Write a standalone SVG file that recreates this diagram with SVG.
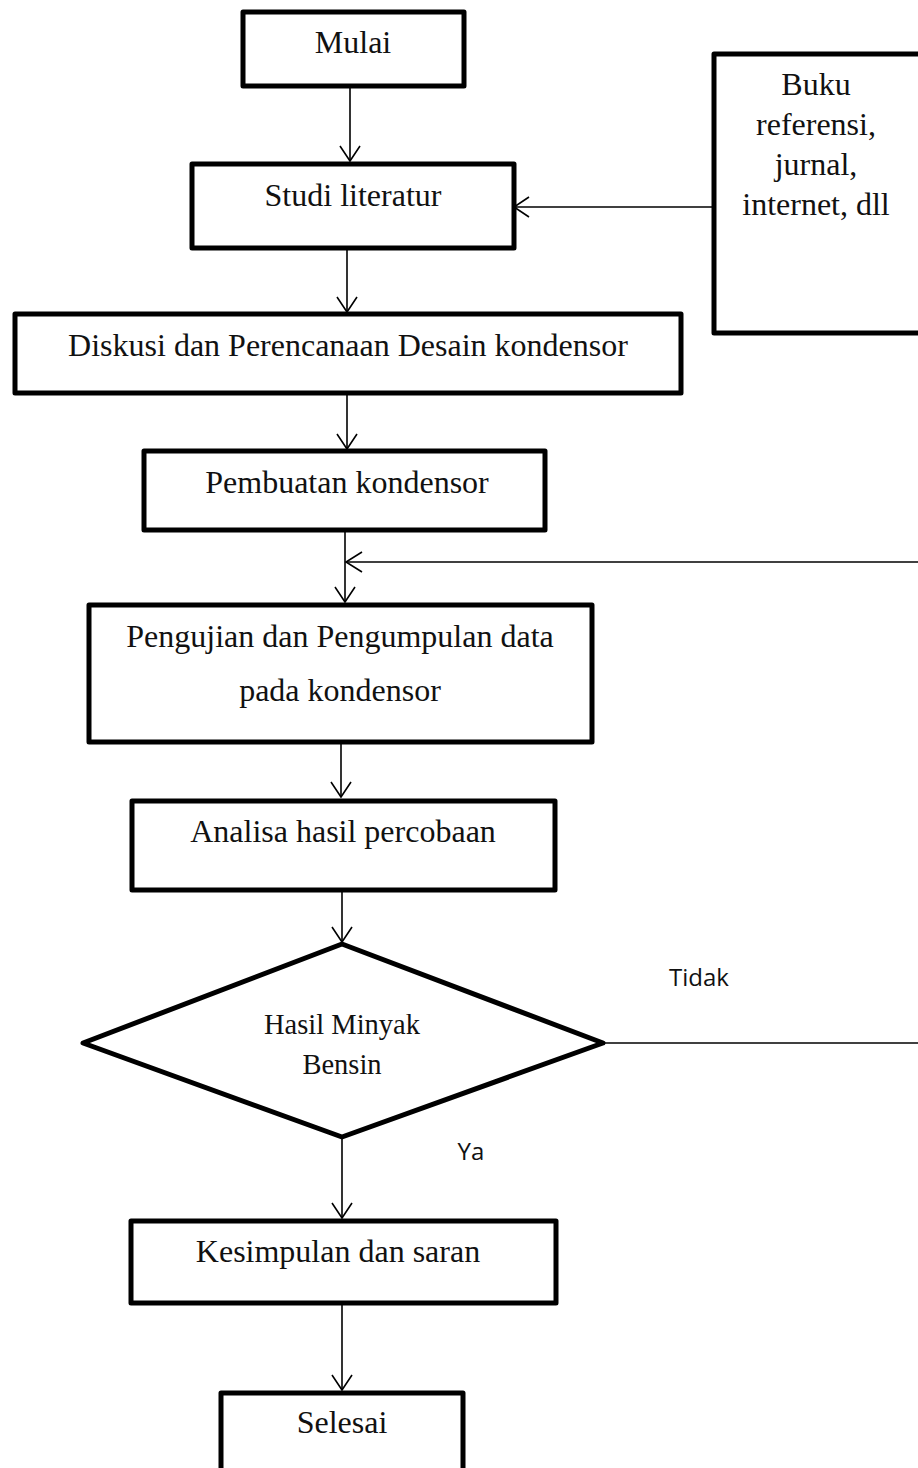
<svg xmlns="http://www.w3.org/2000/svg" width="918" height="1468" viewBox="0 0 918 1468">
<style>
.box{fill:#fff;stroke:#000;stroke-width:5;stroke-linejoin:round}
.t{font-family:"Liberation Serif","Times New Roman",serif;font-size:32px;fill:#111;text-anchor:middle}
.ts{font-size:28.5px}
.lab{font-family:"Open Sans","Liberation Sans",sans-serif;font-size:24px;fill:#111;text-anchor:middle}
.c{fill:none;stroke:#000;stroke-width:1.6}
.ah{fill:none;stroke:#000;stroke-width:1.6;stroke-linejoin:miter}
</style>
<rect width="918" height="1468" fill="#fff"/>
<g id="connectors">
<line class="c" x1="350" y1="87" x2="350" y2="161"/>
<path class="ah" d="M340 146 L350 161 L360 146"/>
<line class="c" x1="713" y1="207" x2="514" y2="207"/>
<path class="ah" d="M529 197 L514 207 L529 217"/>
<line class="c" x1="347" y1="250" x2="347" y2="312"/>
<path class="ah" d="M337 297 L347 312 L357 297"/>
<line class="c" x1="347" y1="395" x2="347" y2="449"/>
<path class="ah" d="M337 434 L347 449 L357 434"/>
<line class="c" x1="345" y1="532" x2="345" y2="602"/>
<path class="ah" d="M335 587 L345 602 L355 587"/>
<line class="c" x1="918" y1="562" x2="346" y2="562"/>
<path class="ah" d="M362 552 L346 562 L362 572"/>
<line class="c" x1="341" y1="744" x2="341" y2="797"/>
<path class="ah" d="M331 782 L341 797 L351 782"/>
<line class="c" x1="342" y1="892" x2="342" y2="942"/>
<path class="ah" d="M332 927 L342 942 L352 927"/>
<line class="c" x1="604" y1="1043" x2="918" y2="1043"/>
<line class="c" x1="342" y1="1139" x2="342" y2="1218"/>
<path class="ah" d="M332 1203 L342 1218 L352 1203"/>
<line class="c" x1="342" y1="1305" x2="342" y2="1390"/>
<path class="ah" d="M332 1375 L342 1390 L352 1375"/>
</g>
<g id="mulai">
<rect class="box" x="243" y="12" width="221" height="74"/>
<text class="t" x="353" y="53">Mulai</text>
</g>
<g id="studi">
<rect class="box" x="192" y="164" width="322" height="84"/>
<text class="t" x="353" y="206">Studi literatur</text>
</g>
<g id="sumber">
<rect class="box" x="714" y="54" width="210" height="279"/>
<text class="t" x="816" y="95">Buku</text>
<text class="t" x="816" y="135">referensi,</text>
<text class="t" x="816" y="175">jurnal,</text>
<text class="t" x="816" y="215">internet, dll</text>
</g>
<g id="diskusi">
<rect class="box" x="15" y="314" width="666" height="79"/>
<text class="t" x="348" y="356">Diskusi dan Perencanaan Desain kondensor</text>
</g>
<g id="pembuatan">
<rect class="box" x="144" y="451" width="401" height="79"/>
<text class="t" x="347" y="493">Pembuatan kondensor</text>
</g>
<g id="pengujian">
<rect class="box" x="89" y="605" width="503" height="137"/>
<text class="t" x="340" y="647">Pengujian dan Pengumpulan data</text>
<text class="t" x="340" y="701">pada kondensor</text>
</g>
<g id="analisa">
<rect class="box" x="132" y="801" width="423" height="89"/>
<text class="t" x="343" y="842">Analisa hasil percobaan</text>
</g>
<g id="keputusan">
<polygon class="box" points="342,944 603,1043 342,1137 83,1043"/>
<text class="t ts" x="342" y="1034">Hasil Minyak</text>
<text class="t ts" x="342" y="1074">Bensin</text>
</g>
<text class="lab" x="699" y="986">Tidak</text>
<text class="lab" x="471" y="1160">Ya</text>
<g id="kesimpulan">
<rect class="box" x="131" y="1221" width="425" height="82"/>
<text class="t" x="338" y="1262">Kesimpulan dan saran</text>
</g>
<g id="selesai">
<rect class="box" x="221" y="1393" width="242" height="90"/>
<text class="t" x="342" y="1433">Selesai</text>
</g>
</svg>
